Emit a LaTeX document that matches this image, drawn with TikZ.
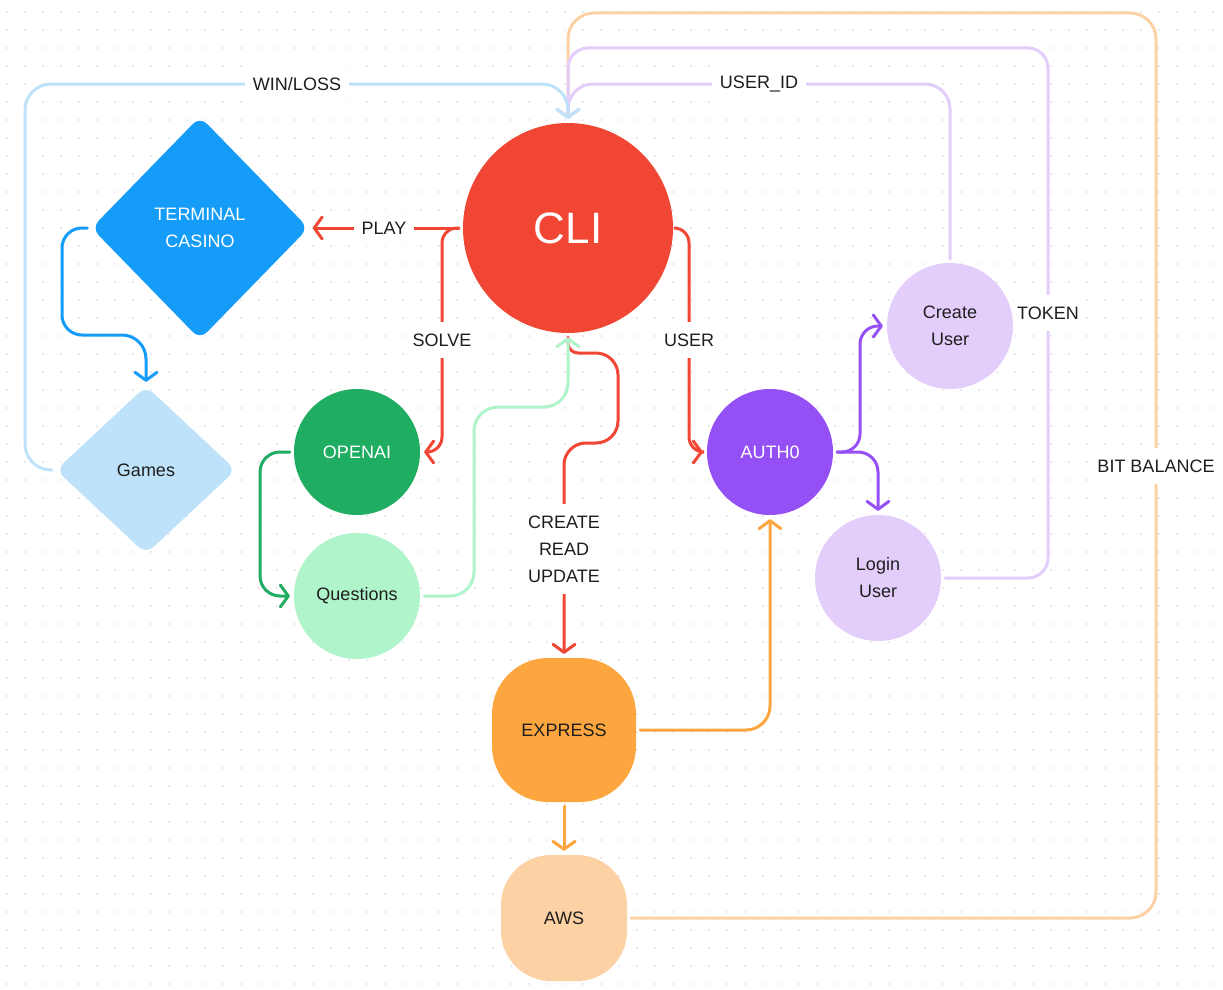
\documentclass[tikz,border=0pt]{standalone}
\usepackage{fontspec}
\setmainfont{Liberation Sans}
\usetikzlibrary{shapes.geometric,arrows.meta}
\definecolor{cred}{HTML}{F14634}
\definecolor{corange}{HTML}{FDA63F}
\definecolor{clorange}{HTML}{FCD1A4}
\definecolor{cgreen}{HTML}{1FAD62}
\definecolor{clgreen}{HTML}{B0F4CB}
\definecolor{cblue}{HTML}{149CF8}
\definecolor{clblue}{HTML}{BEE2FA}
\definecolor{cviolet}{HTML}{9550F5}
\definecolor{clviolet}{HTML}{E2CDFB}
\definecolor{ink}{HTML}{1E1E1E}
\definecolor{dotgray}{HTML}{D8D8D8}
\begin{document}
\begin{tikzpicture}[x=1pt, y=-1pt,
  every node/.style={font=\fontsize{18}{27}\selectfont, align=center, inner sep=0pt, text=ink},
  ball/.style={circle, fill=#1, minimum size=126pt},
  gem/.style={diamond, fill=#1, rounded corners=10pt},
  pill/.style={rectangle, fill=#1},
  link/.style={draw=#1, line width=3pt, rounded corners=20pt, line cap=round,
    shorten >=4pt, shorten <=4pt, -{Straight Barb[length=8pt,width=22pt,round]}},
  lbl/.style={fill=white, inner xsep=8pt, inner ysep=12pt}]
\useasboundingbox (0,0) rectangle (1223,990);
\fill[white] (0,0) rectangle (1223,990);
% dotted canvas
\foreach \i in {0,...,67}
  \foreach \j in {0,...,54}
    \fill[dotgray] (7+18*\i, 12+18*\j) circle (0.9pt);

% nodes
\node[ball=cred, minimum size=210pt, text=white, font=\fontsize{44}{50}\selectfont] (cli) at (568,228) {CLI};
\node[gem=cblue, minimum width=217pt, minimum height=223pt, text=white] (casino) at (200,228) {TERMINAL\\CASINO};
\node[gem=clblue, minimum width=180pt, minimum height=168pt] (games) at (146,470) {Games};
\node[ball=cgreen, text=white] (openai) at (357,452) {OPENAI};
\node[ball=clgreen] (questions) at (357,596) {Questions};
\node[ball=cviolet, text=white] (auth) at (770,452) {AUTH0};
\node[ball=clviolet] (create) at (950,326) {Create\\User};
\node[ball=clviolet] (login) at (878,578) {Login\\User};
\node[pill=corange, minimum width=144pt, minimum height=144pt, rounded corners=56pt] (express) at (564,730) {EXPRESS};
\node[pill=clorange, minimum width=126pt, minimum height=126pt, rounded corners=50pt] (aws) at (564,918) {AWS};

% connectors into the CLI from above
\draw[link=clorange, rounded corners=26pt] (aws.east) -- (1156,918) -- (1156,13) -- (568,13) -- (cli.north);
\draw[link=clviolet] (login.east) -- (1048,578) -- (1048,48) -- (568,48) -- (cli.north);
\draw[link=clviolet, rounded corners=25pt] (create.north) -- (950,84) -- (568,84) -- (cli.north);
\draw[link=clblue, rounded corners=26pt] (games.west) -- (25,470) -- (25,84) -- (568,84) -- (cli.north);

% out of the CLI
\draw[link=cred] (cli.west) -- (casino.east);
\draw[link=cred, rounded corners=15pt] (cli.west) -- (442,228) -- (442,452) -- (openai.east);
\draw[link=cred, rounded corners=15pt] (cli.east) -- (689,228) -- (689,452) -- (auth.west);
\draw[link=cred] (cli.south) [rounded corners=10pt] -- (568,353) [rounded corners=22pt] -- (618,353) -- (618,443) -- (564,443) -- (express.north);

% the rest
\draw[link=cblue] (casino.west) -- (62,228) -- (62,335) [rounded corners=24pt] -- (146,335) -- (games.north);
\draw[link=cgreen] (openai.west) -- (260,452) -- (260,596) -- (questions.west);
\draw[link=clgreen, rounded corners=24pt] (questions.east) -- (474,596) -- (474,407) -- (568,407) -- (cli.south);
\draw[link=cviolet, rounded corners=18pt] (auth.east) -- (860,452) -- (860,326) -- (create.west);
\draw[link=cviolet] (auth.east) -- (878,452) -- (login.north);
\draw[link=corange, rounded corners=24pt] (express.east) -- (770,730) -- (auth.south);
\draw[link=corange] (express.south) -- (aws.north);

% labels
\node[lbl] (winloss) at (297,84) {WIN/LOSS};
\node[lbl] (userid) at (759,84) {USER\_ID};
\node[lbl, inner xsep=4pt] (token) at (1048,313) {TOKEN};
\node[lbl, inner xsep=3pt] (bitbal) at (1156,466) {BIT BALANCE};
\node[lbl] (play) at (384,228) {PLAY};
\node[lbl] (solve) at (442,340) {SOLVE};
\node[lbl] (user) at (689,340) {USER};
\node[lbl] (cru) at (564,549) {CREATE\\READ\\UPDATE};
\end{tikzpicture}
\end{document}
